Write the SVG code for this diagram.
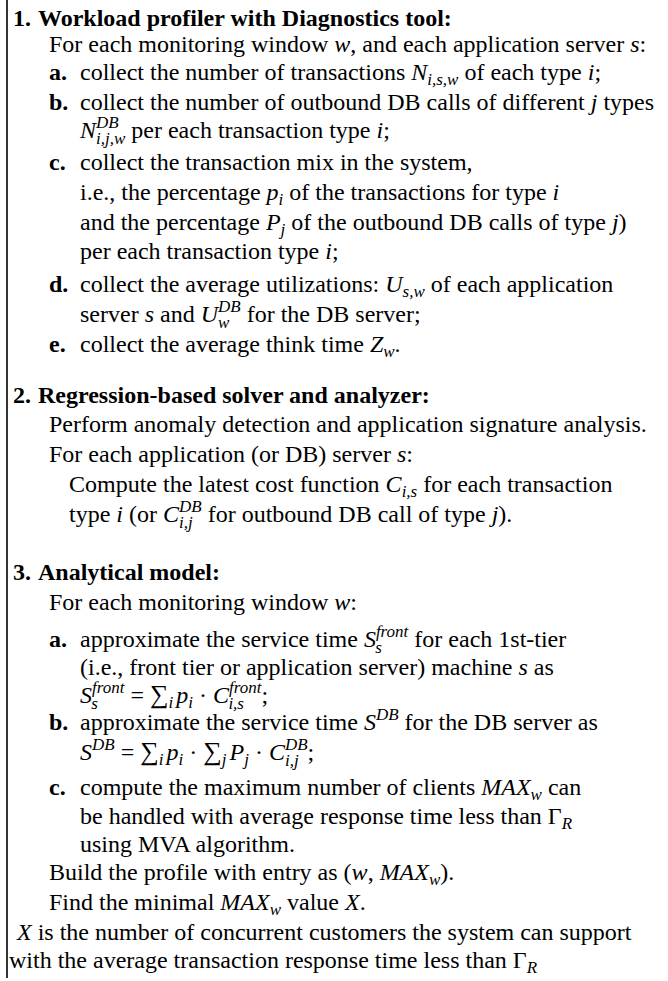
<svg xmlns="http://www.w3.org/2000/svg" width="668" height="981" viewBox="0 0 668 981">
<style>
.t{font-family:"Liberation Serif","Times New Roman",serif;font-size:24px;fill:#000}
.b{font-weight:bold}
.i{font-style:italic}
.s{font-size:17px}
.sum{font-size:26px}
</style>
<rect width="668" height="981" fill="#fff"/>
<line id="border" x1="7" y1="0" x2="7" y2="978" stroke="#000" stroke-width="1.6"/>
<g id="connectors"/>
<g id="step1">
<text class="t b" x="13" y="26">1.</text>
<text class="t b" x="38" y="26">Workload profiler with Diagnostics tool:</text>
<text class="t" x="49" y="52">For each monitoring window <tspan class="i">w</tspan>, and each application server <tspan class="i">s</tspan>:</text>
<text class="t b" x="49" y="80">a.</text>
<text class="t" x="80" y="80">collect the number of transactions <tspan class="i">N</tspan><tspan class="i s" dy="5">i,s,w</tspan><tspan dy="-5"> of each type </tspan><tspan class="i">i</tspan>;</text>
<text class="t b" x="49" y="110">b.</text>
<text class="t" x="80" y="110">collect the number of outbound DB calls of different <tspan class="i">j</tspan> types</text>
<text class="t" x="80" y="138"><tspan class="i">N</tspan><tspan class="i s" dy="-10">DB</tspan><tspan class="i s" dx="-22.7" dy="16">i,j,w</tspan><tspan dy="-6"> per each transaction type </tspan><tspan class="i">i</tspan>;</text>
<text class="t b" x="49" y="170">c.</text>
<text class="t" x="80" y="170">collect the transaction mix in the system,</text>
<text class="t" x="80" y="200">i.e., the percentage <tspan class="i">p</tspan><tspan class="i s" dy="5">i</tspan><tspan dy="-5"> of the transactions for type </tspan><tspan class="i">i</tspan></text>
<text class="t" x="80" y="230">and the percentage <tspan class="i">P</tspan><tspan class="i s" dy="5">j</tspan><tspan dy="-5"> of the outbound DB calls of type </tspan><tspan class="i">j</tspan>)</text>
<text class="t" x="80" y="259">per each transaction type <tspan class="i">i</tspan>;</text>
<text class="t b" x="49" y="292">d.</text>
<text class="t" x="80" y="292">collect the average utilizations: <tspan class="i">U</tspan><tspan class="i s" dy="5">s,w</tspan><tspan dy="-5"> of each application</tspan></text>
<text class="t" x="80" y="322">server <tspan class="i">s</tspan> and <tspan class="i">U</tspan><tspan class="i s" dy="-10">DB</tspan><tspan class="i s" dx="-22.7" dy="16">w</tspan><tspan dx="11.4" dy="-6"> for the DB server;</tspan></text>
<text class="t b" x="49" y="352">e.</text>
<text class="t" x="80" y="352">collect the average think time <tspan class="i">Z</tspan><tspan class="i s" dy="5">w</tspan><tspan dy="-5">.</tspan></text>
</g>
<g id="step2">
<text class="t b" x="13" y="403">2.</text>
<text class="t b" x="38" y="403">Regression-based solver and analyzer:</text>
<text class="t" x="49" y="432">Perform anomaly detection and application signature analysis.</text>
<text class="t" x="49" y="462">For each application (or DB) server <tspan class="i">s</tspan>:</text>
<text class="t" x="69" y="492">Compute the latest cost function <tspan class="i">C</tspan><tspan class="i s" dy="5">i,s</tspan><tspan dy="-5"> for each transaction</tspan></text>
<text class="t" x="69" y="522">type <tspan class="i">i</tspan> (or <tspan class="i">C</tspan><tspan class="i s" dy="-10">DB</tspan><tspan class="i s" dx="-22.7" dy="16">i,j</tspan><tspan dx="9" dy="-6"> for outbound DB call of type </tspan><tspan class="i">j</tspan>).</text>
</g>
<g id="step3">
<text class="t b" x="13" y="580">3.</text>
<text class="t b" x="38" y="580">Analytical model:</text>
<text class="t" x="49" y="610">For each monitoring window <tspan class="i">w</tspan>:</text>
<text class="t b" x="49" y="647">a.</text>
<text class="t" x="80" y="647">approximate the service time <tspan class="i">S</tspan><tspan class="i s" dy="-10">front</tspan><tspan class="i s" dx="-33.1" dy="16">s</tspan><tspan dx="26.5" dy="-6"> for each 1st-tier</tspan></text>
<text class="t" x="80" y="675">(i.e., front tier or application server) machine <tspan class="i">s</tspan> as</text>
<text class="t" x="80" y="703"><tspan class="i">S</tspan><tspan class="i s" dy="-10">front</tspan><tspan class="i s" dx="-33.1" dy="16">s</tspan><tspan dx="26.5" dy="-6"> = </tspan><tspan class="sum">∑</tspan><tspan class="i s" dy="5">i</tspan><tspan class="i" dx="3" dy="-5">p</tspan><tspan class="i s" dy="5">i</tspan><tspan dy="-5"> · </tspan><tspan class="i">C</tspan><tspan class="i s" dy="-10">front</tspan><tspan class="i s" dx="-33.1" dy="16">i,s</tspan><tspan dx="17.5" dy="-6">;</tspan></text>
<text class="t b" x="49" y="730">b.</text>
<text class="t" x="80" y="730">approximate the service time <tspan class="i">S</tspan><tspan class="i s" dy="-10">DB</tspan><tspan dy="10"> for the DB server as</tspan></text>
<text class="t" x="80" y="760"><tspan class="i">S</tspan><tspan class="i s" dy="-10">DB</tspan><tspan dy="10"> = </tspan><tspan class="sum">∑</tspan><tspan class="i s" dy="5">i</tspan><tspan class="i" dx="3" dy="-5">p</tspan><tspan class="i s" dy="5">i</tspan><tspan dy="-5"> · </tspan><tspan class="sum">∑</tspan><tspan class="i s" dy="5">j</tspan><tspan class="i" dx="3" dy="-5">P</tspan><tspan class="i s" dy="5">j</tspan><tspan dy="-5"> · </tspan><tspan class="i">C</tspan><tspan class="i s" dy="-10">DB</tspan><tspan class="i s" dx="-22.7" dy="16">i,j</tspan><tspan dx="9" dy="-6">;</tspan></text>
<text class="t b" x="49" y="795">c.</text>
<text class="t" x="80" y="795">compute the maximum number of clients <tspan class="i">MAX</tspan><tspan class="i s" dy="5">w</tspan><tspan dy="-5"> can</tspan></text>
<text class="t" x="80" y="824">be handled with average response time less than Γ<tspan class="i s" dy="5">R</tspan></text>
<text class="t" x="80" y="852">using MVA algorithm.</text>
<text class="t" x="49" y="880">Build the profile with entry as (<tspan class="i">w</tspan>, <tspan class="i">MAX</tspan><tspan class="i s" dy="5">w</tspan><tspan dy="-5">).</tspan></text>
<text class="t" x="49" y="910">Find the minimal <tspan class="i">MAX</tspan><tspan class="i s" dy="5">w</tspan><tspan dy="-5"> value </tspan><tspan class="i">X</tspan>.</text>
</g>
<g id="result">
<text class="t" x="17" y="940"><tspan class="i">X</tspan> is the number of concurrent customers the system can support</text>
<text class="t" x="9" y="968">with the average transaction response time less than Γ<tspan class="i s" dy="5">R</tspan></text>
</g>
</svg>
